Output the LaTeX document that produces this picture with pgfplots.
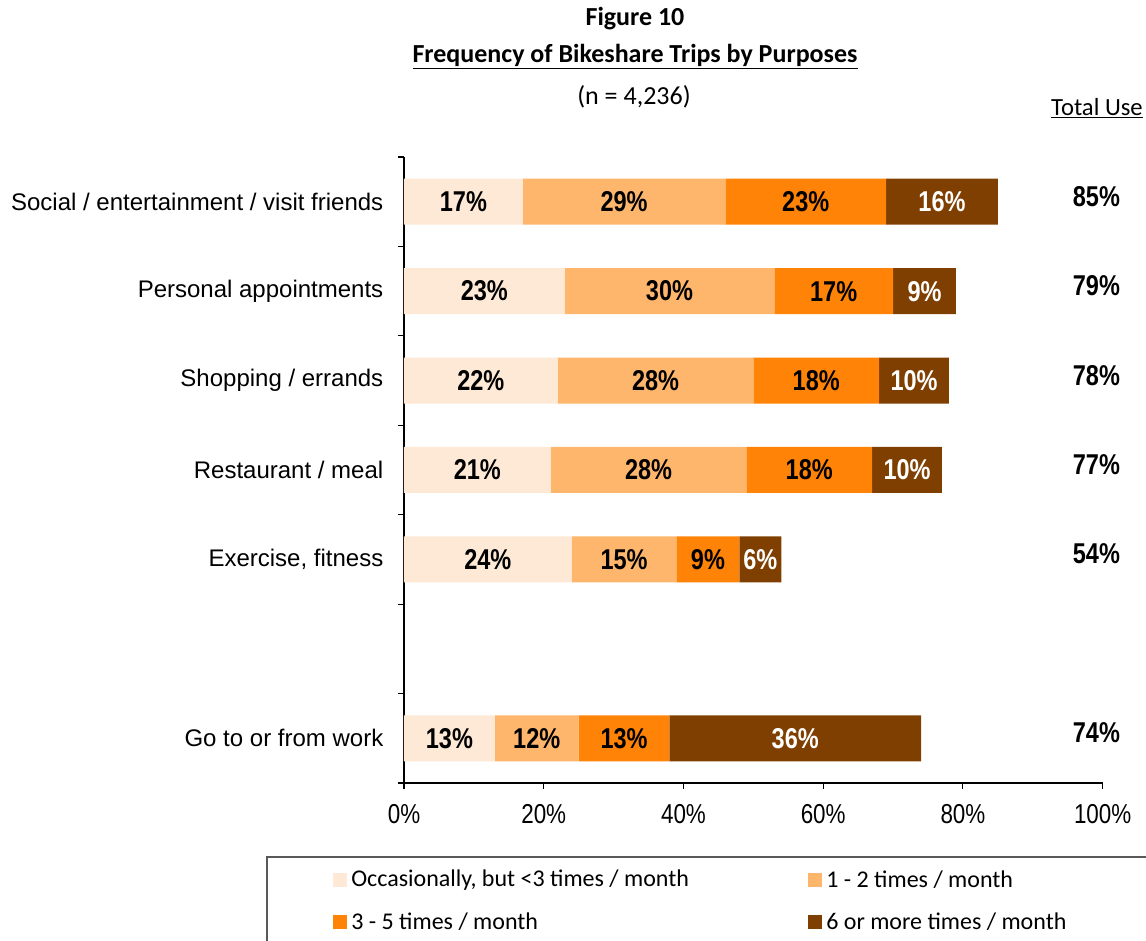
\documentclass[border=0pt]{standalone}
\usepackage{pgfplots}
\pgfplotsset{compat=1.18}
\usepackage{pgfplotstable}
\usepackage{fontspec}
\setmainfont{Liberation Sans}
\newfontfamily\calibri{Carlito}
\newfontfamily\narrow[FakeStretch=0.82]{Liberation Sans}
\definecolor{c1}{HTML}{FDE9D5}
\definecolor{c2}{HTML}{FDB66C}
\definecolor{c3}{HTML}{FF8307}
\definecolor{c4}{HTML}{7E3F00}

\pgfplotstableread{
y   a  b  c  d  total
6.5 17 29 23 16 85
5.5 23 30 17 9  79
4.5 22 28 18 10 78
3.5 21 28 18 10 77
2.5 24 15 9  6  54
0.5 13 12 13 36 74
}\data

\pgfplotsset{
  common/.style={
    at={(303pt,118.5pt)}, anchor=south west,
    scale only axis, width=524pt, height=469.5pt,
    xmin=0, xmax=100, ymin=0, ymax=7,
    /pgf/number format/assume math mode=true,
  },
  lbl/.style={draw=none, mark=none, point meta=explicit,
    nodes near coords={\pgfmathprintnumber{\pgfplotspointmeta}\%},
    every node near coord/.append style={anchor=center, inner sep=0pt,
      font=\narrow\bfseries\fontsize{21.5pt}{24pt}\selectfont, text=#1}},
}

\begin{document}
\begin{tikzpicture}
\path[use as bounding box] (0,0) rectangle (859.5pt,705.75pt);
\begin{axis}[common,
  xbar stacked, bar width=34.5pt,
  axis lines*=left, axis line style={-, black, line width=0.8pt},
  xtick={0,20,...,100},
  xticklabel={\pgfmathprintnumber{\tick}\%},
  xticklabel style={font=\narrow\fontsize{20.5pt}{22pt}\selectfont, yshift=-8pt},
  ytick={0,...,7}, yticklabels={},
  tick align=outside, major tick length=4.5pt,
  tick style={black, line width=0.8pt},
  extra y ticks={6.5,5.5,4.5,3.5,2.5,0.5},
  extra y tick labels={Social / entertainment / visit friends, Personal appointments, Shopping / errands, Restaurant / meal, {Exercise, fitness}, Go to or from work},
  extra y tick style={major tick length=0pt, yticklabel style={font=\fontsize{18pt}{20pt}\selectfont, xshift=-12pt}},
]
\addplot[fill=c1, draw=none] table[x=a, y=y] {\data};
\addplot[fill=c2, draw=none] table[x=b, y=y] {\data};
\addplot[fill=c3, draw=none] table[x=c, y=y] {\data};
\addplot[fill=c4, draw=none] table[x=d, y=y] {\data};
\end{axis}
\begin{axis}[common, hide axis]
\addplot[lbl=black] table[x expr=\thisrow{a}/2, y=y, meta=a] {\data};
\addplot[lbl=black] table[x expr=\thisrow{a}+\thisrow{b}/2, y=y, meta=b] {\data};
\addplot[lbl=black] table[x expr=\thisrow{a}+\thisrow{b}+\thisrow{c}/2, y=y, meta=c] {\data};
\addplot[lbl=white] table[x expr=\thisrow{a}+\thisrow{b}+\thisrow{c}+\thisrow{d}/2, y=y, meta=d] {\data};
\addplot[lbl=black, every node near coord/.append style={yshift=4pt}] table[x expr=99.1, y=y, meta=total] {\data};
\end{axis}
\begin{scope}[x=0.75pt, y=0.75pt]
\node[font=\calibri\bfseries\fontsize{19.5pt}{22pt}\selectfont] at (635,922) {Figure 10};
\node[font=\calibri\bfseries\fontsize{19.5pt}{22pt}\selectfont] at (635,884) {\underline{Frequency of Bikeshare Trips by Purposes}};
\node[font=\calibri\fontsize{19.5pt}{22pt}\selectfont] at (634,844) {(n = 4,236)};
\node[font=\calibri\fontsize{18.5pt}{20pt}\selectfont, inner sep=0pt] at (1097,833) {\underline{Total Use}};
\draw[gray!70!black, line width=1pt] (1150,84) -- (267,84) -- (267,-5);
% legend
\fill[c1] (333,54) rectangle (347,68);
\node[font=\calibri\fontsize{18pt}{20pt}\selectfont, anchor=west, inner sep=0pt] at (351,61) {Occasionally, but <3 times / month};
\fill[c2] (808,54) rectangle (822,68);
\node[font=\calibri\fontsize{18pt}{20pt}\selectfont, anchor=west, inner sep=0pt] at (826,61) {1 - 2 times / month};
\fill[c3] (333,12) rectangle (347,26);
\node[font=\calibri\fontsize{18pt}{20pt}\selectfont, anchor=west, inner sep=0pt] at (351,19) {3 - 5 times / month};
\fill[c4] (808,12) rectangle (822,26);
\node[font=\calibri\fontsize{18pt}{20pt}\selectfont, anchor=west, inner sep=0pt] at (826,19) {6 or more times / month};
\end{scope}
\end{tikzpicture}
\end{document}
